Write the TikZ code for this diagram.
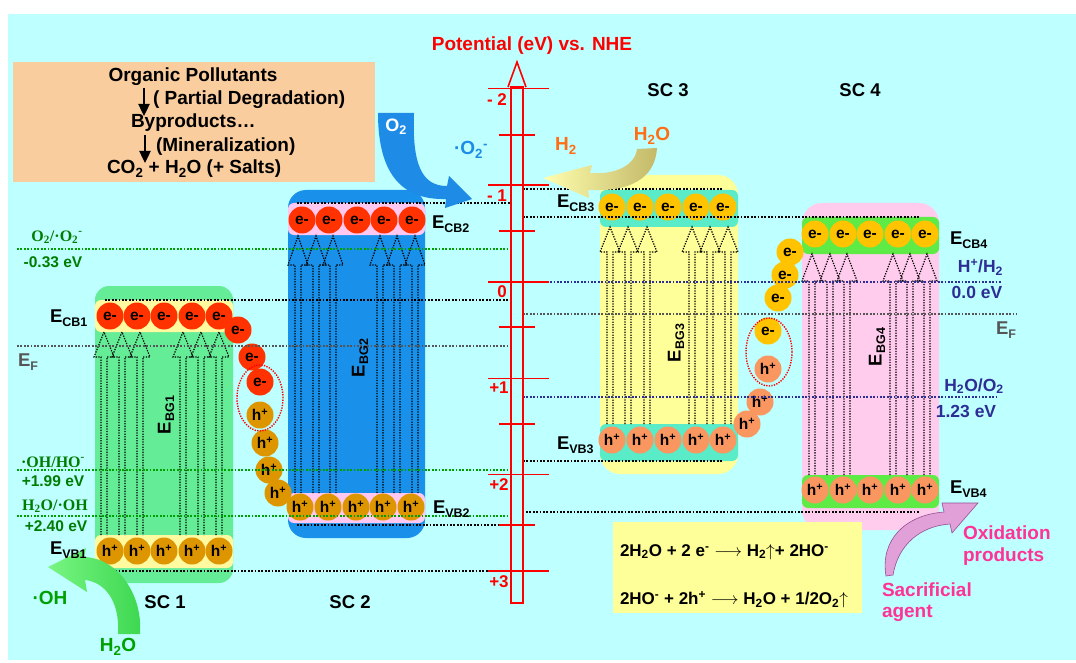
\documentclass[tikz,border=0pt]{standalone}
\usepackage{fontspec}
\setmainfont{Liberation Sans}
\newfontfamily\serifb{Liberation Serif}
\usetikzlibrary{arrows.meta}
\definecolor{bgc}{RGB}{190,255,255}
\definecolor{peach}{RGB}{250,205,158}
\definecolor{sconeg}{RGB}{100,236,150}
\definecolor{bandone}{RGB}{255,250,160}
\definecolor{sctwob}{RGB}{25,145,235}
\definecolor{bandtwo}{RGB}{255,200,240}
\definecolor{scthreey}{RGB}{255,255,153}
\definecolor{bandthree}{RGB}{90,235,200}
\definecolor{scfourp}{RGB}{255,204,238}
\definecolor{bandfour}{RGB}{95,235,70}
\definecolor{ered}{RGB}{255,50,0}
\definecolor{hgold}{RGB}{222,150,0}
\definecolor{eyel}{RGB}{255,195,0}
\definecolor{hsal}{RGB}{250,150,95}
\definecolor{lgreen}{RGB}{0,125,0}
\definecolor{dgreen}{RGB}{0,160,0}
\definecolor{navy}{RGB}{45,45,150}
\definecolor{grayt}{RGB}{85,85,85}
\definecolor{axred}{RGB}{255,0,0}
\definecolor{otwoblue}{RGB}{30,140,230}
\definecolor{orng}{RGB}{255,110,20}
\definecolor{pinkt}{RGB}{255,50,150}
\definecolor{ohgreen}{RGB}{60,215,80}
\definecolor{ohlight}{RGB}{120,245,130}
\definecolor{khaki}{RGB}{195,185,105}
\definecolor{lyel}{RGB}{255,255,175}
\definecolor{sacp}{RGB}{225,160,215}
\definecolor{sacd}{RGB}{150,80,150}
\newcommand\Elab[1]{E\raisebox{-3.5pt}{\fontsize{12.5}{13}\selectfont #1}}
\tikzset{
  every node/.style={inner sep=0pt, outer sep=0pt},
  bt/.style={font=\bfseries\fontsize{19}{21}\selectfont},
  elab/.style={font=\bfseries\fontsize{18.5}{20}\selectfont},
  serl/.style={font=\serifb\bfseries\fontsize{16}{18}\selectfont, text=lgreen},
  grl/.style={font=\bfseries\fontsize{15.5}{18}\selectfont, text=lgreen},
  nvl/.style={font=\bfseries\fontsize{17.5}{19}\selectfont, text=navy},
  tickl/.style={font=\bfseries\fontsize{17}{19}\selectfont, text=axred},
  ball/.style={circle, minimum size=27pt, font=\bfseries\fontsize{15.5}{16}\selectfont},
  ecirc/.style={ball, fill=ered},
  hcirc/.style={ball, fill=hgold},
  ethree/.style={ball, fill=eyel},
  hthree/.style={ball, fill=hsal},
  dl/.style={line width=1.7pt, dash pattern=on 1.7pt off 1.7pt},
  arrdot/.style={line width=1.2pt, dash pattern=on 1.3pt off 1.3pt, black},
  axl/.style={axred, line width=1.6pt},
  eqt/.style={font=\bfseries\fontsize{17}{19}\selectfont, anchor=west},
  pinkl/.style={font=\bfseries\fontsize{19}{21}\selectfont, text=pinkt, anchor=west}
}
\begin{document}
\begin{tikzpicture}[x=1pt,y=-1pt]
\useasboundingbox (0,0) rectangle (1076,663);
\fill[white] (0,0) rectangle (1076,663);
\fill[bgc] (8,14) rectangle (1076,660);

% ---------- left reaction box ----------
\fill[peach] (13,62) rectangle (375,182);
\node[bt] (op) at (193,77) {Organic Pollutants};
\node[bt, anchor=west] (pd) at (153,100) {( Partial Degradation)};
\node[bt, anchor=west] (bp) at (131,123) {Byproducts…};
\node[bt, anchor=west] (mn) at (156,147) {(Mineralization)};
\node[bt, anchor=west] (co) at (107,169) {CO\textsubscript{2} + H\textsubscript{2}O (+ Salts)};
\coordinate (aonea) at (144,88);
\coordinate (aoneb) at (144,116);
\coordinate (atwoa) at (145,135);
\coordinate (atwob) at (145,163);
\draw[line width=2.4pt, -{Triangle[length=12pt,width=11pt]}] (aonea) -- (aoneb);
\draw[line width=2.4pt, -{Triangle[length=12pt,width=11pt]}] (atwoa) -- (atwob);

% ---------- semiconductor boxes ----------
\fill[sconeg, rounded corners=14pt] (95,286) rectangle (233,583);
\fill[bandone, rounded corners=6pt] (95,300) rectangle (233,332);
\fill[bandone, rounded corners=6pt] (95,535) rectangle (233,568);

\fill[sctwob, rounded corners=18pt] (288,190) rectangle (425,538);
\fill[bandtwo, rounded corners=6pt] (288,203) rectangle (425,235);
\fill[bandtwo, rounded corners=6pt] (288,493) rectangle (425,523);

\fill[scthreey, rounded corners=20pt] (600,175) rectangle (738,474);
\fill[bandthree, rounded corners=6pt] (600,190) rectangle (738,227);
\fill[bandthree, rounded corners=6pt] (600,424) rectangle (738,461);

\fill[scfourp, rounded corners=20pt] (802,203) rectangle (939,530);
\fill[bandfour, rounded corners=6pt] (802,217) rectangle (939,254);
\fill[bandfour, rounded corners=6pt] (802,475) rectangle (939,508);

% ---------- dotted excitation arrows ----------
\foreach \x in {104,122,140,183,201,219}
  \draw[arrdot] (\x-3,535) -- (\x-3,357) -- (\x-10,357) -- (\x,332) -- (\x+10,357) -- (\x+3,357) -- (\x+3,535);
\foreach \x in {298,316,333,380,397,415}
  \draw[arrdot] (\x-3,493) -- (\x-3,265) -- (\x-10,265) -- (\x,236) -- (\x+10,265) -- (\x+3,265) -- (\x+3,493);
\foreach \x in {610,628,647,692,710,728}
  \draw[arrdot] (\x-3,424) -- (\x-3,252) -- (\x-10,252) -- (\x,227) -- (\x+10,252) -- (\x+3,252) -- (\x+3,424);
\foreach \x in {812,830,847,893,910,927}
  \draw[arrdot] (\x-3,475) -- (\x-3,281) -- (\x-10,281) -- (\x,254) -- (\x+10,281) -- (\x+3,281) -- (\x+3,475);

% ---------- electrons and holes ----------
\foreach \x [count=\i] in {110,137,164,192,219} {
  \node[ecirc] (eA\i) at (\x,316) {e-};
  \node[hcirc] (hA\i) at (\x,551) {h\textsuperscript{+}};
}
\foreach \x [count=\i] in {302,329,357,384,412}
  \node[ecirc] (eB\i) at (\x,220) {e-};
\foreach \x [count=\i] in {300,328,356,383,411}
  \node[hcirc] (hB\i) at (\x,507) {h\textsuperscript{+}};
\foreach \x [count=\i] in {612,640,668,696,723} {
  \node[ethree] (eC\i) at (\x,207) {e-};
  \node[hthree] (hC\i) at (\x,440) {h\textsuperscript{+}};
}
\foreach \x [count=\i] in {815,843,870,898,925} {
  \node[ethree] (eD\i) at (\x,234) {e-};
  \node[hthree] (hD\i) at (\x,490) {h\textsuperscript{+}};
}
% chain between SC1 and SC2
\node[ecirc] (cA1) at (238,330) {e-};
\node[ecirc] (cA2) at (252,357) {e-};
\node[ecirc] (cA3) at (260,382) {e-};
\node[hcirc] (cA4) at (260,415) {h\textsuperscript{+}};
\node[hcirc] (cA5) at (265,443) {h\textsuperscript{+}};
\node[hcirc] (cA6) at (269,470) {h\textsuperscript{+}};
\node[hcirc] (cA7) at (278,493) {h\textsuperscript{+}};
\draw[axred, line width=1.4pt, dash pattern=on 1.3pt off 1.3pt] (260,398) ellipse [x radius=23pt, y radius=33pt];
% chain between SC3 and SC4
\node[ethree] (cB1) at (790,252) {e-};
\node[ethree] (cB2) at (785,275) {e-};
\node[ethree] (cB3) at (778,298) {e-};
\node[ethree] (cB4) at (768,331) {e-};
\node[hthree] (cB5) at (768,369) {h\textsuperscript{+}};
\node[hthree] (cB6) at (760,402) {h\textsuperscript{+}};
\node[hthree] (cB7) at (747,424) {h\textsuperscript{+}};
\draw[axred, line width=1.4pt, dash pattern=on 1.3pt off 1.3pt] (769,352) ellipse [x radius=23pt, y radius=34pt];

% ---------- level lines ----------
\draw[dl, dgreen] (17,249) -- (511,249);
\draw[dl, black] (297,203) -- (511,203);
\draw[dl, black] (105,300) -- (511,300);
\draw[dl, grayt] (17,346) -- (511,346);
\draw[dl, dgreen] (17,470) -- (511,470);
\draw[dl, dgreen] (17,516) -- (511,516);
\draw[dl, black] (297,525) -- (511,525);
\draw[dl, black] (105,571) -- (511,571);
\draw[dl, black] (523,189) -- (723,189);
\draw[dl, black] (523,217) -- (920,217);
\draw[dl, navy] (523,282) -- (1002,282);
\draw[dl, grayt] (523,314) -- (1017,314);
\draw[dl, navy] (523,397) -- (998,397);
\draw[dl, black] (523,461) -- (723,461);
\draw[dl, black] (526,512) -- (920,512);

% ---------- potential axis ----------
\draw[axl] (511,87) rectangle (523,603);
\draw[axl] (508,87) -- (517,62) -- (526,87);
\foreach \v in {88.5,185,281.7,378.3,474.3,571}
  \draw[axl] (488,\v) -- (549,\v);
\foreach \v in {135,231,327,424,525}
  \draw[axl] (499,\v) -- (535,\v);
\node[font=\bfseries\fontsize{19}{21}\selectfont, text=axred] (ttl) at (532,46) {Potential (eV) vs. NHE};
\node[tickl] (tm2) at (497,100) {- 2};
\node[tickl] (tm1) at (497,196) {- 1};
\node[tickl] (tz) at (502,292) {0};
\node[tickl] (tp1) at (499,388) {+1};
\node[tickl] (tp2) at (499,485) {+2};
\node[tickl] (tp3) at (499,582) {+3};

% ---------- curved arrows ----------
% O2 -> .O2- (blue)
\fill[otwoblue] (378,113) .. controls (378,178) and (405,200) .. (446,199)
  -- (445,208) -- (472,199) -- (449,176) -- (447,186)
  .. controls (422,186) and (412,165) .. (414,113) -- cycle;
\node[font=\bfseries\fontsize{18}{20}\selectfont, text=white] (otwo) at (396,127) {O\textsubscript{2}};
\node[font=\bfseries\fontsize{19}{21}\selectfont, text=otwoblue] (osup) at (471,150) {·O\textsubscript{2}\textsuperscript{-}};
% H2O -> H2 (yellow)
\path[left color=lyel, right color=khaki] (657,148) .. controls (655,180) and (628,192) .. (588,190)
  -- (589,198) -- (543,178) -- (592,165) -- (590,173)
  .. controls (616,175) and (635,165) .. (637,149) -- cycle;
\node[font=\bfseries\fontsize{19}{21}\selectfont, text=orng] (htwo) at (566,146) {H\textsubscript{2}};
\node[font=\bfseries\fontsize{19}{21}\selectfont, text=orng] (htwoo) at (652,136) {H\textsubscript{2}O};
% H2O -> .OH (green)
\path[left color=ohlight, right color=ohgreen] (140,634) .. controls (143,595) and (118,558) .. (84,557)
  -- (86,548) -- (48,567) -- (87,592) -- (85,580)
  .. controls (104,582) and (120,600) .. (118,634) -- cycle;
\node[font=\bfseries\fontsize{19}{21}\selectfont, text=dgreen] (oh) at (50,598) {·OH};
\node[font=\bfseries\fontsize{19}{21}\selectfont, text=dgreen] (hwo) at (118,647) {H\textsubscript{2}O};
% sacrificial agent -> oxidation products (pink)
\path[fill=sacp, draw=sacd, line width=0.6pt] (886,576) .. controls (880,540) and (905,515) .. (944,512)
  -- (942,503) -- (978,503) -- (952,533) -- (950,524)
  .. controls (920,526) and (898,545) .. (893,575) -- cycle;
\node[pinkl] (oxa) at (963,533) {Oxidation};
\node[pinkl] (oxb) at (963,557) {products};
\node[pinkl] (saa) at (882,590) {Sacrificial};
\node[pinkl] (sab) at (882,613) {agent};

% ---------- equations ----------
\fill[scthreey] (613,522) rectangle (862,613);
\node[eqt] (eqa) at (620,552) {2H\textsubscript{2}O + 2 e\textsuperscript{-} $\longrightarrow$ H\textsubscript{2}$\uparrow$+ 2HO\textsuperscript{-}};
\node[eqt] (eqb) at (620,600) {2HO\textsuperscript{-} + 2h\textsuperscript{+} $\longrightarrow$ H\textsubscript{2}O + 1/2O\textsubscript{2}$\uparrow$};

% ---------- labels ----------
\node[elab, anchor=west] (lcb1) at (50,318) {\Elab{CB1}};
\node[elab, anchor=west] (lvb1) at (50,550) {\Elab{VB1}};
\node[elab, anchor=west] (lcb2) at (432,224) {\Elab{CB2}};
\node[elab, anchor=west] (lvb2) at (433,509) {\Elab{VB2}};
\node[elab, anchor=west] (lcb3) at (557,203) {\Elab{CB3}};
\node[elab, anchor=west] (lvb3) at (557,445) {\Elab{VB3}};
\node[elab, anchor=west] (lcb4) at (950,240) {\Elab{CB4}};
\node[elab, anchor=west] (lvb4) at (950,489) {\Elab{VB4}};
\node[elab, rotate=90] (lbg1) at (166,415) {\Elab{BG1}};
\node[elab, rotate=90] (lbg2) at (360,358) {\Elab{BG2}};
\node[elab, rotate=90] (lbg3) at (676,343) {\Elab{BG3}};
\node[elab, rotate=90] (lbg4) at (877,347) {\Elab{BG4}};
\node[elab, text=grayt] (lefl) at (28,362) {\Elab{F}};
\node[elab, text=grayt] (lefr) at (1006,330) {\Elab{F}};
\node[serl] (lo2) at (57,237) {O\textsubscript{2}/·O\textsubscript{2}\textsuperscript{-}};
\node[grl] (lo2v) at (53,262) {-0.33 eV};
\node[serl] (lohh) at (53,462) {·OH/HO\textsuperscript{-}};
\node[grl] (lohv) at (53,481) {+1.99 eV};
\node[serl] (lhoh) at (55,506) {H\textsubscript{2}O/·OH};
\node[grl] (lhohv) at (56,526) {+2.40 eV};
\node[nvl, anchor=east] (lhh) at (1003,267) {H\textsuperscript{+}/H\textsubscript{2}};
\node[nvl] (lhhv) at (977,292) {0.0 eV};
\node[nvl] (lwo) at (974,386) {H\textsubscript{2}O/O\textsubscript{2}};
\node[nvl] (lwov) at (966,411) {1.23 eV};
\node[font=\bfseries\fontsize{18.5}{20}\selectfont] (scone) at (165,602) {SC 1};
\node[font=\bfseries\fontsize{18.5}{20}\selectfont] (sctwo) at (350,602) {SC 2};
\node[font=\bfseries\fontsize{18.5}{20}\selectfont] (scthree) at (668,90) {SC 3};
\node[font=\bfseries\fontsize{18.5}{20}\selectfont] (scfour) at (860,90) {SC 4};
\end{tikzpicture}
\end{document}
